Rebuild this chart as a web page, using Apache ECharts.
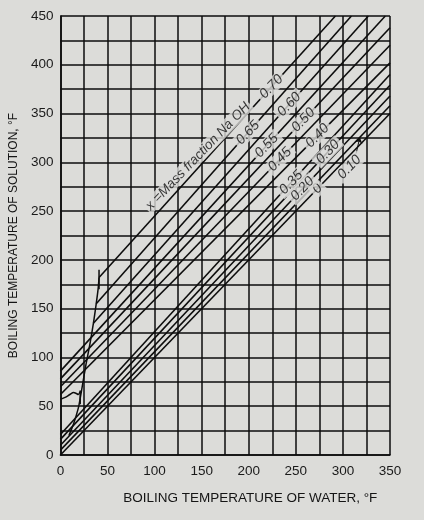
<!DOCTYPE html>
<html>
<head>
<meta charset="utf-8">
<script src="https://cdn.jsdelivr.net/npm/echarts@6.0.0/dist/echarts.min.js"></script>
<style>
  html, body { margin: 0; padding: 0; background: #dcdcd9; }
  #chart { width: 424px; height: 520px; }
</style>
</head>
<body>
<div id="chart"></div>
<script>
// Duhring lines, NaOH - water (degrees F)
const fractions = ['0', '0.10', '0.20', '0.30', '0.35', '0.40', '0.45', '0.50', '0.55', '0.60', '0.65', '0.70']
const startWater = [0, 0, 0, 0, 0, 0, 0, 0, 0, 35, 38, 41]
const startSolution = [0, 5, 10, 16, 21, 62, 70, 78, 86, 135, 155, 182]
const endWater = [350, 350, 350, 350, 350, 350, 350, 350, 345, 327, 309, 292]
const endSolution = [350, 358, 368, 379, 390, 402, 420, 438, 450, 450, 450, 450]

// limiting curve at the low end
const curveWater = [9, 14, 19, 21, 24, 27, 31, 35, 38, 40, 41]
const curveSolution = [20, 32, 48, 58, 75, 92, 112, 135, 155, 170, 182]
const bumpWater = [0, 5, 10, 14, 17, 19, 21]
const bumpSolution = [57, 59, 62, 64, 63, 62, 65]
const tickTopWater = [41, 41]
const tickTopSolution = [170, 190]
const tickBumpWater = [21, 21]
const tickBumpSolution = [52, 66]

const xTicks = [0, 50, 100, 150, 200, 250, 300, 350]
const yTicks = [0, 50, 100, 150, 200, 250, 300, 350, 400, 450]

// where along each line its label sits (water temperature)
const labelAt = [273, 307, 257, 284, 245, 273, 233, 258, 219, 243, 199, 224]

const ink = '#0d0d0d'
const paper = '#dcdcd9'
const font = 'Liberation Sans'

const myChart = echarts.init(document.getElementById('chart'))

function lineY(i, x) {
  return startSolution[i] + (endSolution[i] - startSolution[i]) * (x - startWater[i]) / (endWater[i] - startWater[i])
}

function pairs(xs, ys) {
  return xs.map((x, k) => [x, ys[k]])
}

const lineSeries = fractions.map((f, i) => ({
  name: f,
  type: 'line',
  symbol: 'none',
  silent: true,
  data: [[startWater[i], startSolution[i]], [endWater[i], endSolution[i]]],
  lineStyle: { color: ink, width: 1.6 },
  z: 3
}))

const curveSeries = [
  pairs(curveWater, curveSolution),
  pairs(bumpWater, bumpSolution),
  pairs(tickTopWater, tickTopSolution),
  pairs(tickBumpWater, tickBumpSolution)
].map(d => ({
  type: 'line',
  symbol: 'none',
  smooth: 0.3,
  silent: true,
  data: d,
  lineStyle: { color: ink, width: 1.5 },
  z: 3
}))

// the 0.10 label sits below the water line with a pointer to its own line
const labelData = fractions.map((f, i) => {
  const x = labelAt[i]
  const y = f === '0.10' ? lineY(0, x) - 12 : lineY(i, x)
  return { name: f, value: [x, y] }
})

const pointer = {
  type: 'line',
  symbol: 'none',
  silent: true,
  data: [],
  markLine: {
    silent: true,
    symbol: ['none', 'arrow'],
    symbolSize: 6,
    label: { show: false },
    lineStyle: { color: ink, width: 1, type: 'solid' },
    data: [[
      { coord: [labelAt[1] + 7, lineY(0, labelAt[1] + 7) - 5] },
      { coord: [labelAt[1] + 11, lineY(1, labelAt[1] + 11)] }
    ]]
  },
  z: 6
}

const labelStyle = {
  show: true,
  position: 'inside',
  rotate: 46,
  formatter: p => p.name,
  color: ink,
  fontSize: 14,
  fontStyle: 'italic',
  fontFamily: font,
  backgroundColor: paper,
  padding: [0, 3]
}

const option = {
  backgroundColor: paper,
  animation: false,
  grid: { left: 50, right: 34, top: 16, bottom: 65 },
  xAxis: {
    type: 'value',
    min: 0,
    max: 350,
    interval: 25,
    name: 'BOILING TEMPERATURE OF WATER, °F',
    nameLocation: 'middle',
    nameGap: 36,
    nameTextStyle: { color: '#151515', fontSize: 13.5, fontFamily: font, padding: [0, 0, 0, 50] },
    axisLine: { show: true, lineStyle: { color: ink, width: 1.6 } },
    axisTick: { show: false },
    splitLine: { show: true, lineStyle: { color: ink, width: 1.5 } },
    axisLabel: {
      color: '#1a1a1a',
      fontSize: 13.5,
      fontFamily: font,
      margin: 9,
      formatter: v => (xTicks.indexOf(v) >= 0 ? String(v) : '')
    }
  },
  yAxis: {
    type: 'value',
    min: 0,
    max: 450,
    interval: 25,
    name: 'BOILING TEMPERATURE OF SOLUTION, °F',
    nameLocation: 'middle',
    nameGap: 38,
    nameTextStyle: { color: '#151515', fontSize: 12, fontFamily: font },
    axisLine: { show: true, lineStyle: { color: ink, width: 1.6 } },
    axisTick: { show: false },
    splitLine: { show: true, lineStyle: { color: ink, width: 1.5 } },
    axisLabel: {
      color: '#1a1a1a',
      fontSize: 13.5,
      fontFamily: font,
      margin: 7,
      formatter: v => (yTicks.indexOf(v) >= 0 ? String(v) : '')
    }
  },
  series: lineSeries.concat(curveSeries, [
    pointer,
    {
      type: 'scatter',
      symbolSize: 1,
      silent: true,
      itemStyle: { color: 'transparent' },
      data: labelData,
      label: labelStyle,
      z: 5
    },
    {
      type: 'scatter',
      symbolSize: 1,
      silent: true,
      itemStyle: { color: 'transparent' },
      data: [{ name: 'x =Mass fraction Na OH', value: [146, lineY(11, 146) + 12] }],
      label: Object.assign({}, labelStyle, { fontSize: 13.5, padding: [0, 2] }),
      z: 5
    }
  ])
}

myChart.setOption(option)
</script>
</body>
</html>
